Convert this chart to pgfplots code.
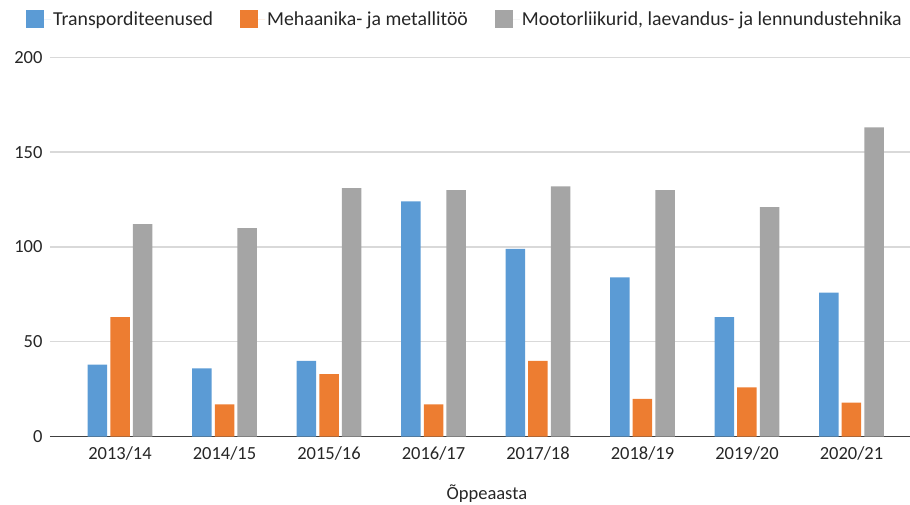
\documentclass[border=0pt]{standalone}
\usepackage{pgfplots}
\pgfplotsset{compat=1.18}
\usepackage{fontspec}
\setmainfont{Carlito}
\definecolor{cblue}{HTML}{5B9BD5}
\definecolor{corange}{HTML}{ED7D31}
\definecolor{cgray}{HTML}{A5A5A5}
\definecolor{cgrid}{HTML}{D9D9D9}
\begin{document}
\begin{tikzpicture}
\begin{axis}[
  scale only axis,
  width=860pt, height=379.4pt,
  ymin=0, ymax=200,
  xmin=-0.67, xmax=7.56,
  ybar, bar width=19.5pt,
  ytick={0,50,100,150,200},
  xtick={0,...,7},
  xticklabels={2013/14,2014/15,2015/16,2016/17,2017/18,2018/19,2019/20,2020/21},
  ymajorgrids, grid style={cgrid, line width=1.3pt},
  axis x line*=bottom, axis y line*=left,
  y axis line style={draw=none},
  x axis line style={draw=black!75, line width=1.2pt, -},
  major tick length=0pt,
  tick label style={font=\fontsize{18.5}{21}\selectfont, text=black!85},
  /pgf/number format/assume math mode=true,
  yticklabel style={xshift=-4pt},
  xticklabel style={yshift=-6pt},
  xlabel={Õppeaasta},
  xlabel style={at={(axis description cs:0.508,0)}, anchor=center, yshift=-57pt, font=\fontsize{18.5}{21}\selectfont, text=black!85},
  legend columns=3,
  legend style={at={(axis description cs:0,1)}, anchor=south west, xshift=-27pt, yshift=26pt, draw=none, fill=none,
    font=\fontsize{19.8}{22}\selectfont, text=black!85,
    /tikz/every even column/.append style={column sep=25pt}},
  legend image code/.code={\fill[#1, draw=none] (0pt,-9pt) rectangle (18pt,9pt); \path (18pt,0pt) -- (25pt,0pt);},
]
\addplot[fill=cblue, draw=none, bar shift=-22.7pt] coordinates {(0,38) (1,36) (2,40) (3,124) (4,99) (5,84) (6,63) (7,76)};
\addplot[fill=corange, draw=none, bar shift=0pt] coordinates {(0,63) (1,17) (2,33) (3,17) (4,40) (5,20) (6,26) (7,18)};
\addplot[fill=cgray, draw=none, bar shift=22.7pt] coordinates {(0,112) (1,110) (2,131) (3,130) (4,132) (5,130) (6,121) (7,163)};
\legend{Transporditeenused, Mehaanika- ja metallitöö, {Mootorliikurid, laevandus- ja lennundustehnika}}
\end{axis}
\pgfresetboundingbox
\path[use as bounding box] (-50pt,-68.3pt) rectangle (860pt,436.7pt);
\end{tikzpicture}
\end{document}
